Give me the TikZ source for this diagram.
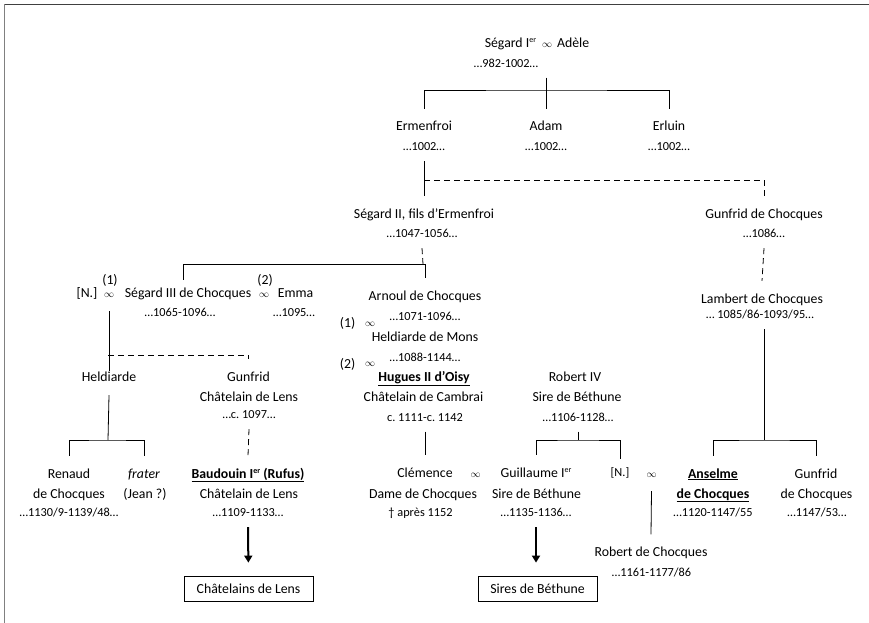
\documentclass[tikz,border=0pt]{standalone}
\usepackage{fontspec}
\setmainfont{Carlito}
\usetikzlibrary{arrows.meta}
\newcommand\namefont{\fontsize{13.8}{16}\selectfont}
\newcommand\yearfont{\fontsize{12.3}{14}\selectfont}
\newcommand\wed{{\fontsize{10}{12}\selectfont$\infty$}}
\newcommand\ersup{\raisebox{4.6pt}{\fontsize{8}{8}\selectfont er}}
\frenchspacing
\tikzset{person/.style={font=\namefont, inner xsep=1pt, inner ysep=11.5pt, text height=10.5pt, text depth=2.5pt},
 years/.style={font=\yearfont, inner xsep=1pt, inner ysep=8.6pt, text height=9pt, text depth=1.8pt},
 kin/.style={line width=0.8pt},
 kindash/.style={kin, dash pattern=on 6pt off 4pt},
 lineage/.style={draw, line width=0.8pt, minimum height=25pt, inner sep=0pt, font=\namefont},
 descent/.style={line width=2pt, -{Triangle[length=7pt,width=8pt]}},
 }

\begin{document}
\begin{tikzpicture}[x=1pt,y=-1pt]
    \useasboundingbox (0,0) rectangle (869,623);
    \draw[line width=1.5pt, black!75] (869,4.5) -- (4.5,4.5);
    \draw[line width=1.5pt, black!50] (4.5,4.5) -- (4.5,623);

    \node[person] (sgI) at (537,43.5) {Ségard I\ersup\hspace{6pt}\wed\hspace{5pt}Adèle};
    \node[years] (sgI-d) at (506,63.5) {…982-1002…};
    \node[person] (ermenfroi) at (424,127) {Ermenfroi};
    \node[years] (ermenfroi-d) at (424,147) {…1002…};
    \node[person] (adam) at (546,127) {Adam};
    \node[years] (adam-d) at (546,147) {…1002…};
    \node[person] (erluin) at (669,127) {Erluin};
    \node[years] (erluin-d) at (669,147) {…1002…};

    \node[person] (sgII) at (424,214) {Ségard II, fils d’Ermenfroi};
    \node[years] (sgII-d) at (422,234) {…1047-1056…};
    \node[person] (gunfridC) at (764,214) {Gunfrid de Chocques};
    \node[years] (gunfridC-d) at (764,234) {…1086…};

    \node[person] (n1) at (87,293) {[N.]};
    \node[person] (w1-n) at (110,280) {(1)};
    \node[person] (w1) at (109,293) {\wed};
    \node[person] (sgIII) at (188,293) {Ségard III de Chocques};
    \node[years] (sgIII-d) at (180,313) {…1065-1096…};
    \node[person] (w2-n) at (265,280) {(2)};
    \node[person] (w2) at (264,293) {\wed};
    \node[person] (emma) at (295.5,293) {Emma};
    \node[years] (emma-d) at (294,313) {…1095…};

    \node[person] (arnoul) at (425,296) {Arnoul de Chocques};
    \node[years] (arnoul-d) at (425,317) {…1071-1096…};
    \node[person] (w3-n) at (347.5,323) {(1)};
    \node[person] (w3) at (370,322) {\wed};
    \node[person] (heldiardeM) at (425,337) {Heldiarde de Mons};
    \node[years] (heldiardeM-d) at (425,357.5) {…1088-1144…};
    \node[person] (w4-n) at (347.5,364.5) {(2)};
    \node[person] (w4) at (370,362.5) {\wed};
    \node[person] (hugues) at (424,377.5) {\underline{\textbf{Hugues II d’Oisy}}};
    \node[person] (hugues-t) at (423.5,397.5) {Châtelain de Cambrai};
    \node[years] (hugues-d) at (425,417.5) {c. 1111-c. 1142};

    \node[person] (lambert) at (762,299) {Lambert de Chocques};
    \node[years] (lambert-d) at (760,315) {… 1085/86-1093/95…};

    \node[person] (heldiarde) at (109,377) {Heldiarde};
    \node[person] (gunfridL) at (248.5,377) {Gunfrid};
    \node[person] (gunfridL-t) at (249,397) {Châtelain de Lens};
    \node[years] (gunfridL-d) at (249,415) {…c. 1097…};

    \node[person] (robert4) at (575,377.5) {Robert IV};
    \node[person] (robert4-t) at (577,397.5) {Sire de Béthune};
    \node[years] (robert4-d) at (578,417.5) {…1106-1128…};

    \node[person] (renaud) at (69,474) {Renaud};
    \node[person] (renaud-t) at (69,494) {de Chocques};
    \node[years] (renaud-d) at (69,513) {…1130/9-1139/48…};
    \node[person] (frater) at (144,474) {\textit{frater}};
    \node[person] (frater-t) at (145,494) {(Jean ?)};

    \node[person] (baudouin) at (248,474) {\underline{\textbf{Baudouin I\ersup\ (Rufus)}}};
    \node[person] (baudouin-t) at (249,494) {Châtelain de Lens};
    \node[years] (baudouin-d) at (248,513) {…1109-1133…};

    \node[person] (clemence) at (425,473) {Clémence};
    \node[person] (clemence-t) at (423,494) {Dame de Chocques};
    \node[years] (clemence-d) at (420.5,513) {† après 1152};
    \node[person] (w5) at (475.5,473) {\wed};
    \node[person] (guillaume) at (536,473) {Guillaume I\ersup};
    \node[person] (guillaume-t) at (536.5,494) {Sire de Béthune};
    \node[years] (guillaume-d) at (536,513) {…1135-1136…};
    \node[years] (n2) at (620,473) {[N.]};
    \node[person] (w6) at (651.5,473) {\wed};
    \node[person] (robertC) at (651,552.5) {Robert de Chocques};
    \node[years] (robertC-d) at (651.5,572.5) {…1161-1177/86};

    \node[person] (anselme) at (713,474) {\underline{\textbf{Anselme}}};
    \node[person] (anselme-t) at (713,494) {\underline{\textbf{de Chocques}}};
    \node[years] (anselme-d) at (713,513) {…1120-1147/55};
    \node[person] (gunfrid3) at (816,474) {Gunfrid};
    \node[person] (gunfrid3-t) at (816.5,494) {de Chocques};
    \node[years] (gunfrid3-d) at (817,513) {…1147/53…};

    \node[lineage, minimum width=129pt] (lens) at (248.5,588.5) {Châtelains de Lens};
    \node[lineage, minimum width=119pt] (bethune) at (537.5,588.5) {Sires de Béthune};

    \coordinate (fork0) at (546,90);
    \coordinate (fork1) at (424,180);
    \coordinate (fork2) at (423,264);
    \coordinate (fork2l) at (183,264);
    \coordinate (sgIII-top) at (183,280);
    \coordinate (fork4) at (764,440);
    \coordinate (fork5) at (108,355);
    \coordinate (fork6) at (108,440);
    \coordinate (fork7) at (578,440);

    \draw[kin] (adam.north |- sgI-d.south) -- (adam.north);
    \draw[kin] (ermenfroi.north) |- (fork0) -| (erluin.north);
    \draw[kin] (ermenfroi-d.south) -- (sgII.north);
    \draw[kindash] (fork1) -| (gunfridC.north);

    \draw[kindash] (sgII-d.south) -- (fork2);
    \draw[kin] (arnoul.north) |- (fork2l) -- (sgIII-top);
    \draw[kindash] (gunfridC-d.south) -- (lambert.north);
    \draw[kin] (fork4 |- lambert-d.south) -- (fork4);
    \draw[kin] (anselme.north) |- (fork4) -| (gunfrid3.north);

    \draw[kin] (w1.south) -- ([yshift=-12pt]heldiarde.north);
    \draw[kindash] (fork5) -| (gunfridL.north);
    \draw[kin] (heldiarde.south) -- (fork6);
    \draw[kin] (renaud.north) |- (fork6) -| (frater.north);
    \draw[kindash] (gunfridL-d.south) -- (baudouin.north);

    \draw[kin] (clemence.north |- hugues-d.south) -- (clemence.north);
    \draw[kin] (robert4-d.south) -- (fork7);
    \draw[kin] (guillaume.north) |- (fork7) -| (n2.north);
    \draw[kin] (w6.south) -- (robertC.north);

    \draw[descent, shorten >=13pt] (baudouin-d.south) -- (lens.north);
    \draw[descent, shorten >=13pt] (guillaume-d.south) -- (guillaume-d.south |- bethune.north);
\end{tikzpicture}
\end{document}
